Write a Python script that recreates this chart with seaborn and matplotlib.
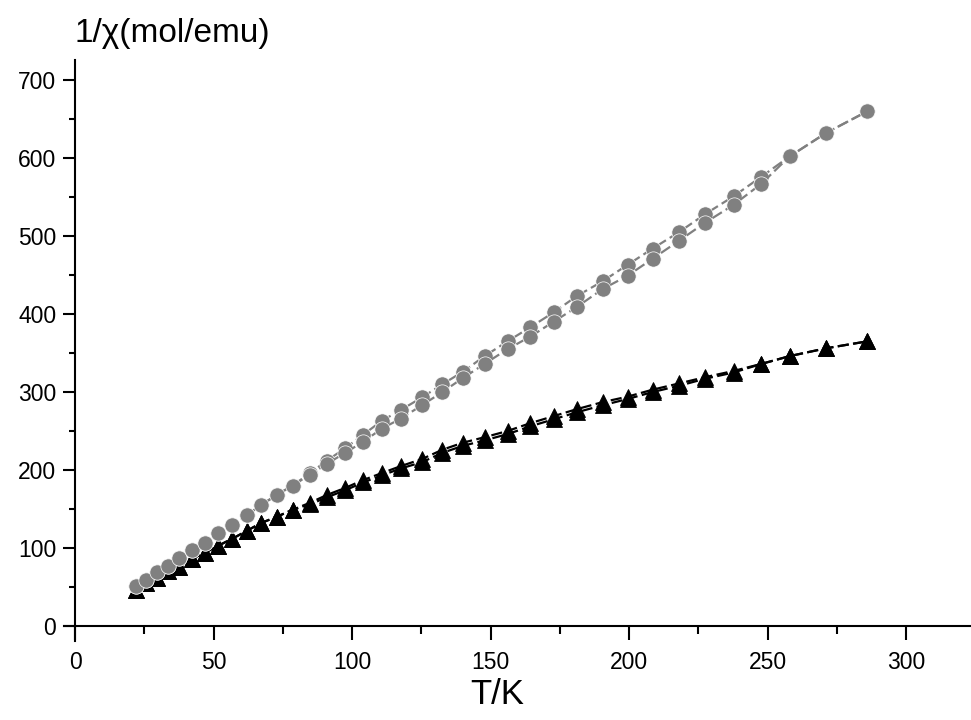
import numpy as np
import pandas as pd
import matplotlib
matplotlib.use("Agg")
import matplotlib.pyplot as plt
from matplotlib.ticker import MultipleLocator
import seaborn as sns

# Temperature points (K), shared by all measurement runs
temperature = [22, 25.6, 29.6, 33.7, 37.6, 42.1, 46.9, 51.7, 56.8, 62, 67.1, 72.8,
               78.5, 84.8, 90.9, 97.5, 103.9, 110.7, 117.6, 125.2, 132.6, 140,
               147.8, 156.1, 164.3, 172.7, 181.1, 190.4, 199.4, 208.5, 218, 227.4,
               237.7, 247.7, 257.9, 271, 286]

# Inverse susceptibility (mol/emu), compound 1 (grey circles), two runs
circle_run1 = [51, 59, 69, 77, 87, 97, 107, 119, 129, 142, 155, 168, 180, 196, 212,
               228, 245, 263, 277, 293, 310, 326, 346, 365, 383, 402, 423, 442,
               463, 484, 505, 528, 551, 576, 602, 632, 660]
circle_run2 = [51, 59, 69, 77, 87, 97, 107, 119, 129, 142, 155, 168, 180, 194, 208,
               222, 236, 253, 266, 283, 300, 318, 336, 355, 371, 390, 409, 432,
               449, 471, 494, 517, 540, 567, 602, 632, 660]

# Inverse susceptibility (mol/emu), compound 2 (black triangles), two runs
triangle_run1 = [46, 55, 62, 70, 76, 86, 94, 103, 112, 122, 132, 140, 149, 158, 168,
                 177, 187, 196, 205, 214, 226, 235, 242, 250, 260, 269, 278, 287,
                 294, 303, 311, 319, 327, 336, 346, 356, 365]
triangle_run2 = [46, 55, 62, 70, 76, 86, 94, 103, 112, 122, 132, 140, 149, 156, 165,
                 174, 184, 193, 202, 210, 222, 231, 238, 246, 256, 265, 274, 283,
                 291, 300, 308, 317, 325, 336, 346, 356, 365]

x_ticks = [0, 50, 100, 150, 200, 250, 300]
y_ticks = [0, 100, 200, 300, 400, 500, 600, 700]

runs = {
    "tri1": triangle_run1,
    "tri2": triangle_run2,
    "circ1": circle_run1,
    "circ2": circle_run2,
}
df = pd.concat(
    [pd.DataFrame({"T": temperature, "inv_chi": v, "run": k}) for k, v in runs.items()],
    ignore_index=True,
)

sns.set_theme(style="white")
plt.rcParams["font.family"] = ["Liberation Sans", "DejaVu Sans"]
plt.rcParams["text.color"] = "black"
plt.rcParams["xtick.labelcolor"] = "black"
plt.rcParams["ytick.labelcolor"] = "black"

fig = plt.figure(figsize=(9.71, 7.2), dpi=100)
ax = fig.add_axes([0.0659, 0.110, 0.933, 0.807])

grey = "#808080"
styles = {
    "tri1": dict(color="black", marker="^", markersize=12, markeredgecolor="black",
                 markeredgewidth=0.6),
    "tri2": dict(color="black", marker="^", markersize=12, markeredgecolor="black",
                 markeredgewidth=0.6),
    "circ1": dict(color=grey, marker="o", markersize=11, markeredgecolor="white",
                  markeredgewidth=0.5),
    "circ2": dict(color=grey, marker="o", markersize=11, markeredgecolor="white",
                  markeredgewidth=0.5),
}
for run, st in styles.items():
    sub = df[df["run"] == run]
    sns.lineplot(data=sub, x="T", y="inv_chi", ax=ax, sort=False, estimator=None,
                 linewidth=1.6, linestyle=(0, (5, 2)), legend=False, **st)

ax.set_xlim(-4, 323)
ax.set_ylim(-19, 726)
ax.spines["left"].set_position(("data", 0))
ax.spines["bottom"].set_position(("data", 0))
for s in ("top", "right"):
    ax.spines[s].set_visible(False)
for s in ("left", "bottom"):
    ax.spines[s].set_color("black")
    ax.spines[s].set_linewidth(1.5)

ax.set_xticks(x_ticks)
ax.set_yticks(y_ticks)
ax.xaxis.set_minor_locator(MultipleLocator(25))
ax.yaxis.set_minor_locator(MultipleLocator(50))
ax.tick_params(axis="x", which="major", direction="out", length=10, width=1.5,
               color="black", labelsize=16.5, pad=8, bottom=True)
ax.tick_params(axis="x", which="minor", direction="out", length=5.5, width=1.5,
               color="black", bottom=True)
ax.tick_params(axis="y", which="major", direction="out", length=8.5, width=1.5,
               color="black", labelsize=16.5, pad=5, left=True)
ax.tick_params(axis="y", which="minor", direction="out", length=4.3, width=1.5,
               color="black", left=True)
ax.grid(False)
ax.set_facecolor("white")
ax.set_xlabel("")
ax.set_ylabel("")

fig.text(0.077, 0.942, "1/χ(mol/emu)", fontsize=24, ha="left", va="baseline",
         color="black")
fig.text(0.512, 0.022, "T/K", fontsize=25, ha="center", va="baseline",
         color="black")

fig.savefig("out.png", dpi=100, facecolor="white")
